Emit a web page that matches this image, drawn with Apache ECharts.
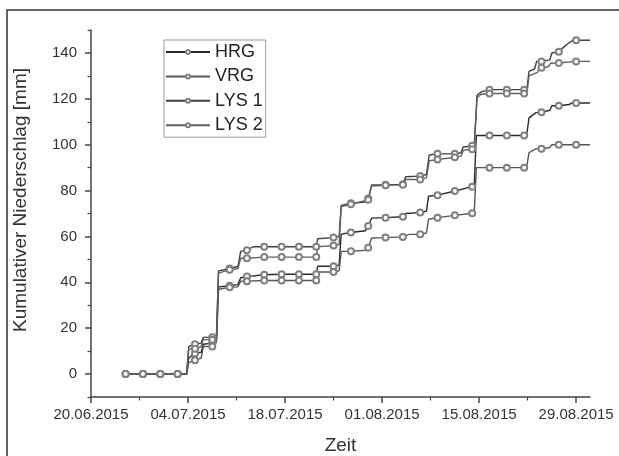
<!DOCTYPE html>
<html><head><meta charset="utf-8">
<script src="https://cdn.jsdelivr.net/npm/echarts@6/dist/echarts.min.js"></script>
<style>html,body{margin:0;padding:0;background:#fff}#c{width:619px;height:456px}</style>
</head><body><div id="c"></div>
<script>
// x values are days since 20.06.2015
const seriesNames = ['HRG', 'VRG', 'LYS 1', 'LYS 2'];
const xTickDays = [0, 14, 28, 42, 56, 70];
const xTickLabels = ['20.06.2015', '04.07.2015', '18.07.2015', '01.08.2015', '15.08.2015', '29.08.2015'];
const xMinorDays = [7, 21, 35, 49, 63];
const yTickValues = [0, 20, 40, 60, 80, 100, 120, 140];
const yMinorValues = [-10, 10, 30, 50, 70, 90, 110, 130, 150];
const markerDays = [5, 7.5, 10, 12.5, 15, 17.5, 20, 22.5, 25, 27.5, 30, 32.5, 35, 37.5, 40, 42.5, 45, 47.5, 50, 52.5, 55, 57.5, 60, 62.5, 65, 67.5, 70];

const hrgPoints = [[5,0],[7.5,0],[10,0],[12.5,0],[13.8,0],[14.1,7],[15,9],[15.9,9.5],[16.2,13],[17.5,13.5],[18.1,15],[18.4,38],[20,38.5],[21.2,39],[21.6,42],[22.5,42.5],[25,43.3],[27.5,43.5],[30,43.5],[32.5,43.5],[32.7,47],[35,47],[35.8,47.5],[36.1,61],[37.5,61.7],[39.6,62.5],[40,64.5],[40.5,68],[42.5,68.2],[45,68.6],[45.4,70],[47.5,70.4],[48.4,71],[48.7,77.5],[50,78],[52.5,79.8],[55,81.7],[55.3,82.5],[55.6,104],[57.5,104],[60,104],[62.5,104],[62.9,105],[63.2,111.7],[64.2,114],[65,114.1],[66.2,115],[66.5,117],[67.5,117],[69,117.5],[69.4,118.2],[70,118.2],[72,118.2]];
const vrgPoints = [[5,0],[7.5,0],[10,0],[12.5,0],[13.8,0],[14.1,5],[15,6],[15.9,7],[16.2,12],[17.5,12],[18.1,14],[18.4,37],[20,37.8],[21.2,38],[21.6,40.5],[22.5,40.5],[25,40.8],[27.5,40.8],[30,40.8],[32.5,40.8],[32.7,44.5],[35,44.5],[35.8,45],[36.1,53.5],[37.5,53.5],[39.6,54],[40,55.1],[40.5,59.3],[42.5,59.5],[45,59.8],[45.9,60.9],[47.5,60.9],[48.4,61.5],[48.7,67.5],[50,68.2],[52.5,69.2],[55,70.1],[55.3,70.5],[55.6,90],[57.5,90],[60,90],[62.5,90],[62.9,91],[63.2,96.5],[64.2,98.2],[65,98.2],[66.2,98.8],[66.5,100],[67.5,100],[70,100],[72,100]];
const lys1Points = [[5,0],[7.5,0],[10,0],[12.5,0],[13.8,0],[14.1,12],[15,13],[15.9,13.5],[16.2,16],[17.5,16],[18.1,17],[18.4,45],[20,46],[21.2,47],[21.6,53.5],[22.5,54],[23.4,55.5],[25,55.5],[27.5,55.5],[30,55.5],[32.5,55.5],[32.7,59],[35,59.5],[35.8,60],[36.1,73.5],[37.5,74.5],[39.6,75],[40,76.5],[40.5,82.5],[42.5,82.5],[45,82.7],[45.4,86],[47.5,86.3],[48.4,87],[48.8,95.5],[50,96],[52.5,96],[53.4,96.5],[53.7,99],[55,99.5],[55.3,100],[55.7,121.5],[56.3,123],[57.5,124],[60,124],[62.5,124],[62.9,124.5],[63.2,132],[64,133],[64.3,136.3],[65,136.3],[66.2,137],[66.5,140],[67.5,140.5],[68,142],[68.8,144],[69.5,145.5],[70,145.5],[72,145.5]];
const lys2Points = [[5,0],[7.5,0],[10,0],[12.5,0],[13.8,0],[14.1,11],[15,11],[15.9,12],[16.2,15],[17.5,15],[18.1,15.5],[18.4,44],[20,45.5],[21.2,46],[21.6,50.5],[22.5,50.5],[25,51],[27.5,51],[30,51],[32.5,51],[32.7,55.5],[35,56],[35.8,56.5],[36.1,73],[37.5,74],[40,76],[40.5,82],[42.5,82.3],[45,82.5],[45.4,84.8],[47.5,84.8],[48.4,85.5],[48.8,93],[50,93.5],[52.5,94.5],[53.4,95],[53.7,97.5],[55,98],[55.3,98.5],[55.7,120.5],[56.3,122],[57.5,122.3],[60,122.3],[62.5,122.3],[62.9,122.5],[63.2,130],[64.4,131.5],[64.7,133.5],[65,133.5],[66,134],[66.3,135.5],[67.5,135.6],[70,136.3],[72,136.3]];

const allPoints = [hrgPoints, vrgPoints, lys1Points, lys2Points];
const lineColors = ['#2a2a2a', '#555555', '#404040', '#606060'];

function buildData(points) {
  return points.map(p => markerDays.indexOf(p[0]) >= 0 ? { value: p } : { value: p, symbol: 'none' });
}

const FONT = 'Liberation Sans, Arial, sans-serif';
const chart = echarts.init(document.getElementById('c'), null, { renderer: 'canvas' });
const axisColor = '#444';

chart.setOption({
  animation: false,
  backgroundColor: '#fff',
  grid: { left: 91, right: 29, top: 30, bottom: 59, containLabel: false, outerBoundsMode: 'none' },
  legend: {
    data: seriesNames,
    orient: 'vertical',
    left: 164, top: 40,
    itemWidth: 44, itemHeight: 5, itemGap: 6.4,
    padding: [3, 3, 3, 1],
    borderColor: '#999', borderWidth: 1,
    textStyle: { fontSize: 18, lineHeight: 18, color: '#222', fontFamily: FONT },
    selectedMode: false
  },
  xAxis: [{
    type: 'value', min: 0, max: 72, position: 'bottom',
    axisLine: { show: true, onZero: false, lineStyle: { color: axisColor, width: 1.5 } },
    axisTick: { show: true, customValues: xTickDays, length: 6, lineStyle: { color: axisColor, width: 1.5 } },
    axisLabel: { customValues: xTickDays, formatter: v => xTickLabels[xTickDays.indexOf(v)] || '', fontSize: 15, color: '#333', fontFamily: FONT, margin: 10 },
    splitLine: { show: false },
    name: 'Zeit', nameLocation: 'middle', nameGap: 39,
    nameTextStyle: { fontSize: 19, color: '#333', fontFamily: FONT }
  }, {
    type: 'value', min: 0, max: 72, position: 'bottom',
    axisLine: { show: false, onZero: false },
    axisTick: { show: true, customValues: xMinorDays, length: 3.5, lineStyle: { color: axisColor, width: 1.2 } },
    axisLabel: { show: true, customValues: xMinorDays, formatter: () => '' },
    splitLine: { show: false }
  }],
  yAxis: [{
    type: 'value', min: -10, max: 150, position: 'left',
    axisLine: { show: true, onZero: false, lineStyle: { color: axisColor, width: 1.5 } },
    axisTick: { show: true, customValues: yTickValues, length: 6, lineStyle: { color: axisColor, width: 1.5 } },
    axisLabel: { customValues: yTickValues, fontSize: 15, color: '#333', fontFamily: FONT, margin: 14 },
    splitLine: { show: false }
  }, {
    type: 'value', min: -10, max: 150, position: 'left',
    axisLine: { show: false, onZero: false },
    axisTick: { show: true, customValues: yMinorValues, length: 3.5, lineStyle: { color: axisColor, width: 1.2 } },
    axisLabel: { show: true, customValues: yMinorValues, formatter: () => '' },
    splitLine: { show: false }
  }],
  graphic: [
    { type: 'rect', z: -10, shape: { x: 7, y: 10, width: 700, height: 500 }, style: { fill: 'none', stroke: '#333', lineWidth: 1.5 } },
    { type: 'text', x: 21, y: 200, rotation: Math.PI / 2,
      style: { text: 'Kumulativer Niederschlag [mm]', fontSize: 19, fontFamily: FONT, fill: '#333', textAlign: 'center', textVerticalAlign: 'middle', align: 'center', verticalAlign: 'middle' } }
  ],
  series: seriesNames.map((name, i) => ({
    name: name,
    type: 'line',
    xAxisIndex: 0, yAxisIndex: 0,
    data: buildData(allPoints[i]),
    symbol: 'emptyCircle',
    symbolSize: 6,
    showAllSymbol: true,
    lineStyle: { color: lineColors[i], width: 1.4 },
    itemStyle: { color: '#808080', borderWidth: 1 },
    emphasis: { disabled: true }
  }))
});
</script></body></html>
